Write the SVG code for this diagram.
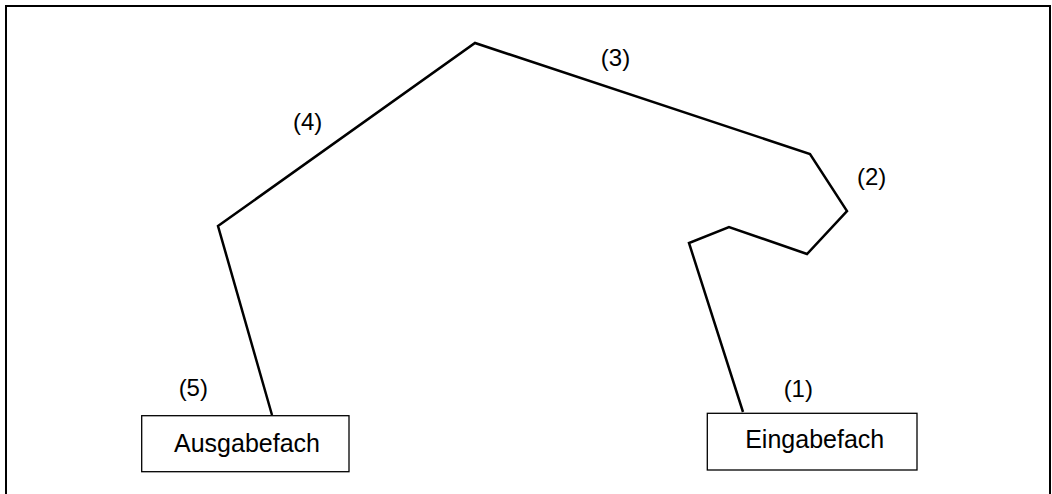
<svg xmlns="http://www.w3.org/2000/svg" width="1052" height="494" viewBox="0 0 1052 494">
  <style>
    .frame { fill: none; stroke: #000; stroke-width: 2; }
    .box { fill: #fff; stroke: #000; stroke-width: 1.3; }
    .path { fill: none; stroke: #000; stroke-width: 2.5; stroke-linejoin: miter; }
    .label { font-family: "Liberation Sans", Arial, sans-serif; font-size: 24px; fill: #000; text-anchor: middle; }
    .boxtext { font-family: "Liberation Sans", Arial, sans-serif; font-size: 25px; fill: #000; text-anchor: middle; }
  </style>
  <rect width="1052" height="494" fill="#fff"/>
  <!-- open frame: left, top and right sides -->
  <path class="frame" d="M6,494 V6 H1050 V494"/>

  <g id="connectors">
    <polyline class="path" points="272,415 218,226 475,43 810,154 847,211 807,254 729,227 689,243 743,412"/>
  </g>

  <g id="labels">
    <text class="label" x="615.5" y="66">(3)</text>
    <text class="label" x="307.7" y="130">(4)</text>
    <text class="label" x="871.7" y="185">(2)</text>
    <text class="label" x="193.3" y="396">(5)</text>
    <text class="label" x="798.3" y="397">(1)</text>
  </g>

  <g id="ausgabefach">
    <rect class="box" x="141.7" y="415.7" width="207.3" height="56"/>
    <text class="boxtext" x="247" y="451.5">Ausgabefach</text>
  </g>

  <g id="eingabefach">
    <rect class="box" x="707.3" y="413.3" width="209.7" height="56.7"/>
    <text class="boxtext" x="814.7" y="447.5">Eingabefach</text>
  </g>
</svg>
